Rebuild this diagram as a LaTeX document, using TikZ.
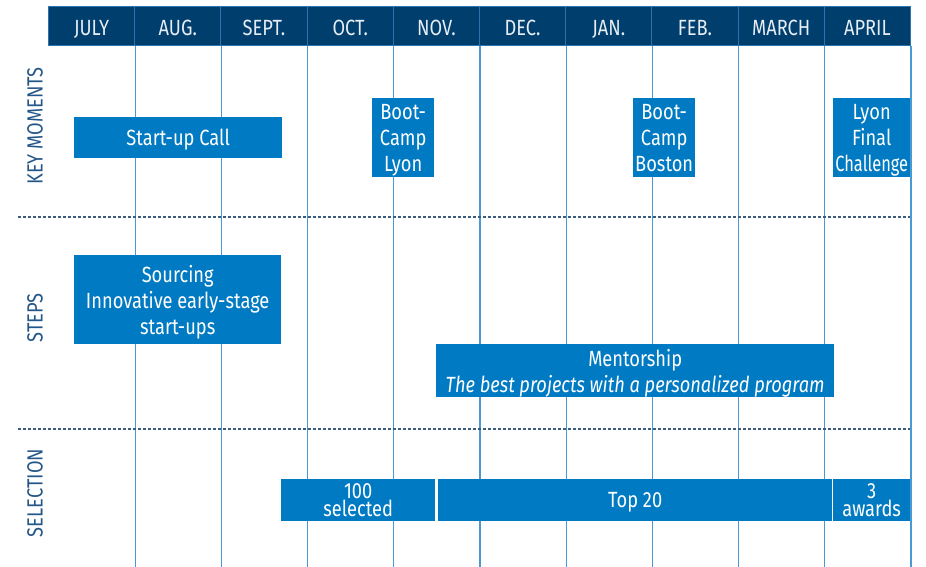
\documentclass[tikz,border=0pt]{standalone}
\usepackage{fontspec}
\setmainfont[FakeStretch=0.83]{Fira Sans}
\definecolor{navy}{HTML}{003E6E}
\definecolor{hdrline}{HTML}{2C74B0}
\definecolor{grid}{HTML}{4A98D4}
\definecolor{boxblue}{HTML}{007AC2}
\definecolor{dashc}{HTML}{3B5C7C}
\definecolor{labc}{HTML}{245788}
\definecolor{hdrtext}{HTML}{E6EDF4}
\begin{document}
\begin{tikzpicture}[x=1pt,y=-1pt,
  month/.style={draw=hdrline,line width=1pt,fill=navy,text=hdrtext,anchor=north west,
    minimum width=86.2pt,minimum height=39pt,inner sep=0pt,text height=18pt,text depth=0pt,
    font=\fontsize{22}{26}\selectfont},
  bar/.style={fill=boxblue,text=white,anchor=north west,inner sep=0pt,align=center,
    text depth=-2pt,font=\fontsize{22}{26}\selectfont},
  tight/.style={font=\fontsize{22}{17.5}\selectfont},
  rowlab/.style={rotate=90,text=labc,inner sep=0pt,font=\fontsize{22}{26}\selectfont},
  gridline/.style={draw=grid,line width=1.1pt},
  sep/.style={draw=dashc,line width=1.4pt,dash pattern=on 3pt off 2pt}]
\useasboundingbox (0,0) rectangle (926,566);
% header
\foreach \m [count=\i from 0] in {JULY,AUG.,SEPT.,OCT.,NOV.,DEC.,JAN.,FEB.,MARCH,APRIL}{
  \node[month] (m\i) at ({48+\i*86.2},6) {\m};
}
% grid lines
\foreach \i in {0,...,9}{
  \draw[gridline] (m\i.south east) -- ++(0,521);
}
% separators
\coordinate (s1a) at (18,217); \coordinate (s1b) at (910,217);
\coordinate (s2a) at (18,429); \coordinate (s2b) at (910,429);
\draw[sep] (s1a) -- (s1b);
\draw[sep] (s2a) -- (s2b);
% row labels
\node[rowlab] (lk) at (35,126) {KEY MOMENTS};
\node[rowlab] (ls) at (35,318) {STEPS};
\node[rowlab] (lsel) at (35,493) {SELECTION};
% key moments
\node[bar,minimum width=208pt,minimum height=41pt] (call) at (74,117) {Start-up Call};
\node[bar,minimum width=62pt,minimum height=79pt] (bcl) at (372,98) {Boot-\\Camp\\Lyon};
\node[bar,minimum width=62pt,minimum height=79pt] (bcb) at (633,98) {Boot-\\Camp\\Boston};
\node[bar,minimum width=77pt,minimum height=79pt] (lfc) at (833,98) {Lyon\\Final\\\scalebox{0.9}[1]{Challenge}};
% steps
\node[bar,minimum width=207pt,minimum height=89pt] (src) at (74,255) {Sourcing\\Innovative early-stage\\start-ups};
\node[bar,minimum width=398pt,minimum height=53pt] (ment) at (436,344) {Mentorship\\\itshape The best projects with a personalized program};
% selection
\node[bar,tight,minimum width=154pt,minimum height=42pt] (sel100) at (281,479) {100\\selected};
\node[bar,minimum width=394pt,minimum height=42pt] (top20) at (438,479) {Top 20};
\node[bar,tight,minimum width=77pt,minimum height=42pt] (aw3) at (833,479) {3\\awards};
\end{tikzpicture}
\end{document}
